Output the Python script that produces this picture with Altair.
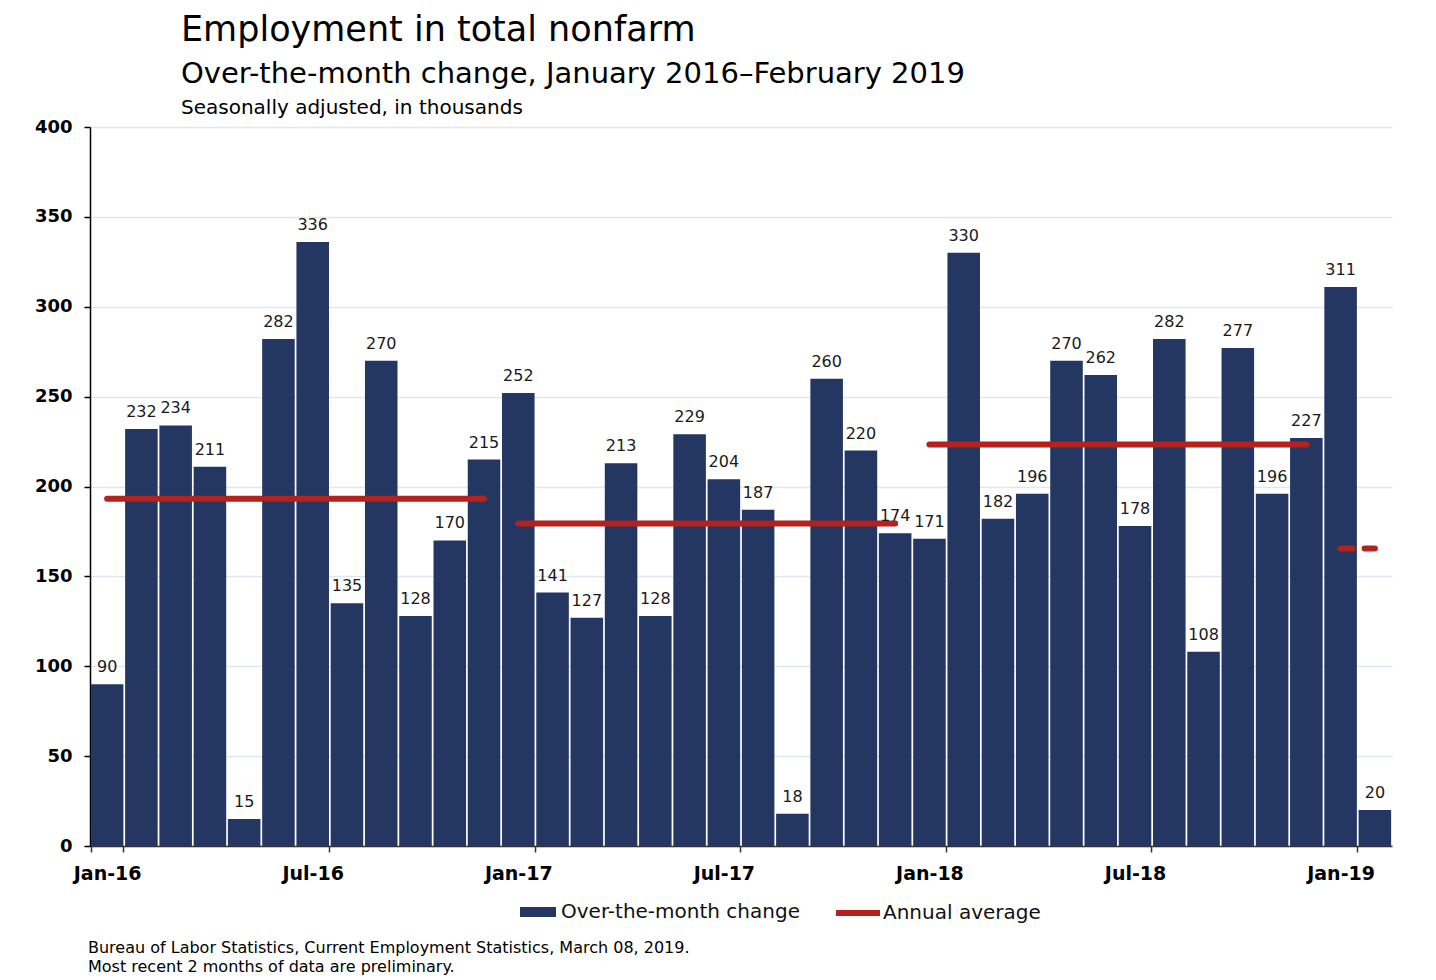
import altair as alt
import pandas as pd

months = ["Jan-16", "Feb-16", "Mar-16", "Apr-16", "May-16", "Jun-16", "Jul-16", "Aug-16", "Sep-16", "Oct-16", "Nov-16", "Dec-16",
          "Jan-17", "Feb-17", "Mar-17", "Apr-17", "May-17", "Jun-17", "Jul-17", "Aug-17", "Sep-17", "Oct-17", "Nov-17", "Dec-17",
          "Jan-18", "Feb-18", "Mar-18", "Apr-18", "May-18", "Jun-18", "Jul-18", "Aug-18", "Sep-18", "Oct-18", "Nov-18", "Dec-18",
          "Jan-19", "Feb-19"]
changes = [90, 232, 234, 211, 15, 282, 336, 135, 270, 128, 170, 215,
           252, 141, 127, 213, 128, 229, 204, 187, 18, 260, 220, 174,
           171, 330, 182, 196, 270, 262, 178, 282, 108, 277, 196, 227,
           311, 20]
tick_labels = ["Jan-16", "Jul-16", "Jan-17", "Jul-17", "Jan-18", "Jul-18", "Jan-19"]
y_ticks = [0, 50, 100, 150, 200, 250, 300, 350, 400]

avg_start = ["Jan-16", "Jan-17", "Jan-18", "Jan-19"]
avg_end = ["Dec-16", "Dec-17", "Dec-18", "Feb-19"]
avg_values = [193.2, 179.4, 223.3, 165.5]
avg_preliminary = [False, False, False, True]

title_text = "Employment in total nonfarm"
subtitle_text = "Over-the-month change, January 2016\u2013February 2019"
unit_text = "Seasonally adjusted, in thousands"
source_lines = ["Bureau of Labor Statistics, Current Employment Statistics, March 08, 2019.",
                "Most recent 2 months of data are preliminary."]
bar_label = "Over-the-month change"
avg_label = "Annual average"

NAVY = "#243762"
RED = "#b3221c"
FONT = "DejaVu Sans"
W, H = 1302, 719

bars_df = pd.DataFrame({"month": months, "change": changes, "series": bar_label})
avg_df = pd.DataFrame({"start": avg_start, "end": avg_end, "avg": avg_values,
                       "prelim": avg_preliminary, "series": avg_label})

x_scale = alt.Scale(domain=months, paddingInner=0.05, paddingOuter=0.025)
y_scale = alt.Scale(domain=[0, 400])

x_axis = alt.Axis(values=tick_labels, labelAngle=0, tickBand="extent", tickSize=6, tickColor="#333",
                  tickWidth=1.5, domainColor="#333", domainWidth=1.5, labelFont=FONT, labelFontSize=19,
                  labelFontWeight="bold", labelColor="#000", labelPadding=12, grid=False, title=None)
y_axis = alt.Axis(values=y_ticks, tickSize=6, tickColor="#000", tickWidth=1.5, domainColor="#000",
                  domainWidth=1.5, labelFont=FONT, labelFontSize=18, labelFontWeight="bold",
                  labelColor="#000", labelPadding=12, grid=True, gridColor="#e0e5f5", gridWidth=1.5,
                  title=None)

bars = alt.Chart(bars_df).mark_bar().encode(
    x=alt.X("month:N", sort=months, scale=x_scale, axis=x_axis),
    y=alt.Y("change:Q", scale=y_scale, axis=y_axis),
    color=alt.Color("series:N", scale=alt.Scale(domain=[bar_label], range=[NAVY]),
                    legend=alt.Legend(title=None, orient="none", legendX=430, legendY=767,
                                      symbolType="M-1,-0.28H1V0.28H-1Z", symbolSize=1296,
                                      symbolStrokeWidth=0, labelFont=FONT, labelFontSize=20,
                                      labelColor="#111", labelOffset=5, labelLimit=500, padding=0)),
)

values = alt.Chart(bars_df).mark_text(baseline="alphabetic", dy=-12, fontSize=16, font=FONT,
                                      color="#1a1a1a").encode(
    x=alt.X("month:N", sort=months, scale=x_scale),
    y=alt.Y("change:Q", scale=y_scale),
    text="change:Q",
)

avg_lines = alt.Chart(avg_df).transform_filter("!datum.prelim").mark_rule(
    strokeWidth=6, strokeCap="round").encode(
    x=alt.X("start:N", scale=x_scale),
    x2="end:N",
    y=alt.Y("avg:Q", scale=y_scale),
    stroke=alt.Stroke("series:N", scale=alt.Scale(domain=[avg_label], range=[RED]),
                      legend=alt.Legend(title=None, orient="none", legendX=743, legendY=761,
                                        symbolType="stroke", symbolSize=1936, symbolStrokeWidth=6,
                                        labelFont=FONT, labelFontSize=20, labelColor="#111",
                                        labelOffset=0, labelLimit=500, padding=0)),
)

avg_prelim = alt.Chart(avg_df).transform_filter("datum.prelim").mark_rule(
    strokeWidth=6, strokeCap="round", strokeDash=[12, 12], color=RED).encode(
    x=alt.X("start:N", scale=x_scale),
    x2="end:N",
    y=alt.Y("avg:Q", scale=y_scale),
)


def text_layer(txt, size, xpos, ypos):
    return alt.Chart(pd.DataFrame({"t": [txt]})).mark_text(
        align="left", baseline="alphabetic", fontSize=size, font=FONT, color="#000").encode(
        x=alt.value(xpos), y=alt.value(ypos), text="t:N")


header = [
    text_layer(title_text, 35, 91, -86),
    text_layer(subtitle_text, 29, 91, -44),
    text_layer(unit_text, 20, 91, -13),
]
footer = [
    text_layer(source_lines[0], 16, -2, H + 107),
    text_layer(source_lines[1], 16, -2, H + 126),
]

chart = alt.layer(bars, avg_lines, avg_prelim, values, *header, *footer).properties(
    width=W, height=H,
    autosize=alt.AutoSizeParams(type="none"),
    padding={"left": 82, "top": 119, "right": 30, "bottom": 134},
).configure_view(stroke=None)

chart.save("out.html", embed_options={"renderer": "svg", "actions": False})
